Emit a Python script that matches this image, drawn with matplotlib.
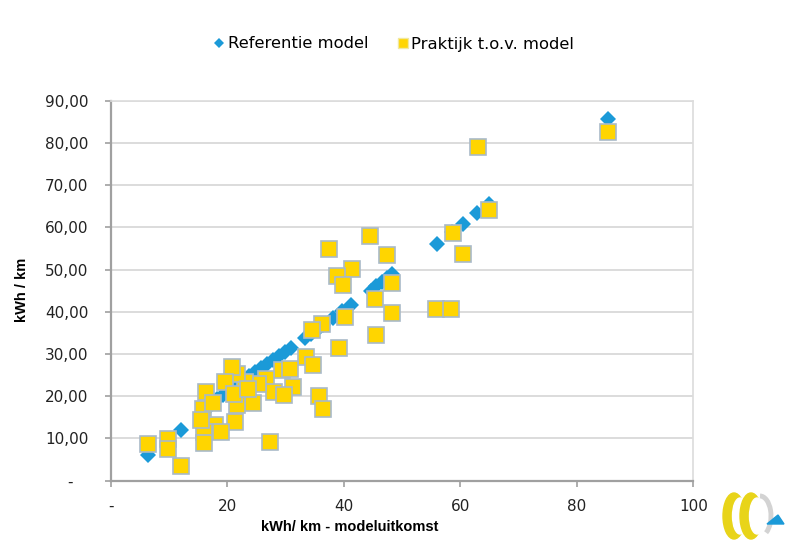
import matplotlib
matplotlib.use("Agg")
import matplotlib.pyplot as plt
from matplotlib.patches import Ellipse, Arc, Polygon
from matplotlib.lines import Line2D

# Referentie model (blue diamonds)
ref_x = [6.4, 12.0, 17.0, 18.2, 19.2, 20.3, 21.5, 22.6, 23.8, 24.8, 25.8, 26.9,
         27.9, 28.9, 29.9, 30.9, 33.3, 34.3, 35.4, 36.5, 38.2, 39.7, 41.3, 44.6,
         45.6, 46.6, 47.5, 48.2, 56.0, 58.6, 60.4, 62.8, 65.0, 85.3]
ref_y = [6.2, 12.1, 17.8, 19.3, 20.4, 21.4, 22.6, 23.6, 24.8, 25.7, 26.7, 27.7,
         28.7, 29.6, 30.5, 31.5, 33.8, 34.8, 35.8, 36.8, 38.6, 40.1, 41.7, 45.0,
         46.1, 47.0, 48.0, 48.9, 56.1, 58.8, 60.8, 63.3, 65.6, 85.7]

# Praktijk t.o.v. model (yellow squares)
prak_x = [6.4, 9.8, 9.8, 12.0, 63.0, 85.3, 65.0, 58.8, 60.5, 55.9, 58.4, 44.5,
          37.5, 47.5, 41.4, 38.9, 39.9, 48.2, 45.4, 48.2, 40.3, 45.6, 36.2, 34.6,
          39.1, 33.6, 34.8, 29.4, 30.8, 26.6, 31.3, 28.0, 29.7, 35.7, 36.5, 27.3,
          24.5, 25.3, 23.0, 21.7, 20.8, 19.7, 21.7, 21.3, 21.2, 17.9, 18.9, 16.3,
          15.9, 17.5, 16.0, 16.0, 15.5, 23.5]
prak_y = [8.7, 9.9, 7.5, 3.6, 79.0, 82.5, 64.0, 58.7, 53.8, 40.7, 40.7, 57.9,
          54.8, 53.4, 50.1, 48.4, 46.4, 46.8, 43.1, 39.7, 38.8, 34.4, 37.2, 35.7,
          31.4, 29.3, 27.5, 26.2, 26.4, 24.2, 22.2, 20.9, 20.3, 20.0, 17.1, 9.2,
          18.3, 23.0, 23.4, 25.2, 27.0, 23.4, 17.9, 13.9, 20.6, 13.3, 11.5, 21.0,
          17.1, 18.4, 11.6, 8.9, 14.3, 21.8]

x_ticks = [0, 20, 40, 60, 80, 100]
x_labels = ["-", "20", "40", "60", "80", "100"]
y_ticks = [0, 10, 20, 30, 40, 50, 60, 70, 80, 90]
y_labels = ["-   "] + ["%d0,00" % i for i in range(1, 10)]

BLUE = "#1B9AD8"
YELLOW = "#FFD500"
EDGE = "#A9BAC8"

fig = plt.figure(figsize=(7.93, 5.6), dpi=100)
ax = fig.add_axes([0.1396, 0.1416, 0.7347, 0.6786])

ax.plot(ref_x, ref_y, linestyle="none", marker="D", markersize=8.3,
        color=BLUE, markeredgewidth=0, zorder=3)
ax.plot(prak_x, prak_y, linestyle="none", marker="s", markersize=12,
        markerfacecolor=YELLOW, markeredgecolor=EDGE, markeredgewidth=1.2, zorder=4)

ax.set_xlim(0, 100)
ax.set_ylim(0, 90)
ax.set_xticks(x_ticks)
ax.set_xticklabels(x_labels)
ax.set_yticks(y_ticks)
ax.set_yticklabels(y_labels)
ax.tick_params(axis="both", direction="out", length=4, width=1.2, color="#A0A0A0",
               labelsize=11, labelcolor="#222222")
ax.tick_params(axis="y", pad=12)
ax.tick_params(axis="x", pad=9)

ax.grid(True, axis="y", color="#D9D9D9", linewidth=1.3, zorder=0)
ax.set_axisbelow(True)
for side in ["left", "bottom"]:
    ax.spines[side].set_color("#A0A0A0")
    ax.spines[side].set_linewidth(1.6)
for side in ["top", "right"]:
    ax.spines[side].set_color("#DCDCDC")
    ax.spines[side].set_linewidth(1.2)

fig.text(350 / 793, 1 - 527 / 560, "kWh/ km - modeluitkomst", ha="center", va="center",
         fontsize=10.5, fontweight="bold", family="Liberation Sans")
fig.text(22 / 793, 1 - 290 / 560, "kWh / km", ha="center", va="center", rotation=90,
         fontsize=10.5, fontweight="bold", family="Liberation Sans")

handles = [
    Line2D([], [], linestyle="none", marker="D", markersize=5, color=BLUE,
           markeredgewidth=0, label="Referentie model"),
    Line2D([], [], linestyle="none", marker="s", markersize=7, markerfacecolor=YELLOW,
           markeredgecolor="#F0E8A0", label="Praktijk t.o.v. model"),
]
fig.legend(handles=handles, loc="center", bbox_to_anchor=(0.497, 1 - 44 / 560), ncol=2,
           frameon=False, fontsize=11.8, handlelength=0.6, handletextpad=0.2,
           columnspacing=1.8)

# small logo in the bottom right corner
lax = fig.add_axes([720 / 793, 1 - 548 / 560, 68 / 793, 64 / 560])
lax.set_xlim(0, 68)
lax.set_ylim(0, 64)
lax.axis("off")
lax.add_patch(Ellipse((14, 32), 22, 46, color="#E8D419"))
lax.add_patch(Ellipse((20, 32), 15, 36, color="white"))
lax.add_patch(Ellipse((31, 32), 22, 46, color="#E8D419"))
lax.add_patch(Ellipse((37, 32), 15, 36, color="white"))
lax.add_patch(Arc((40, 32), 22, 40, theta1=-70, theta2=90, lw=3.5, color="#D3D3D3"))
lax.add_patch(Polygon([[47, 24], [64, 24], [58, 33]], closed=True, color=BLUE))

fig.savefig("out.png", dpi=100)
